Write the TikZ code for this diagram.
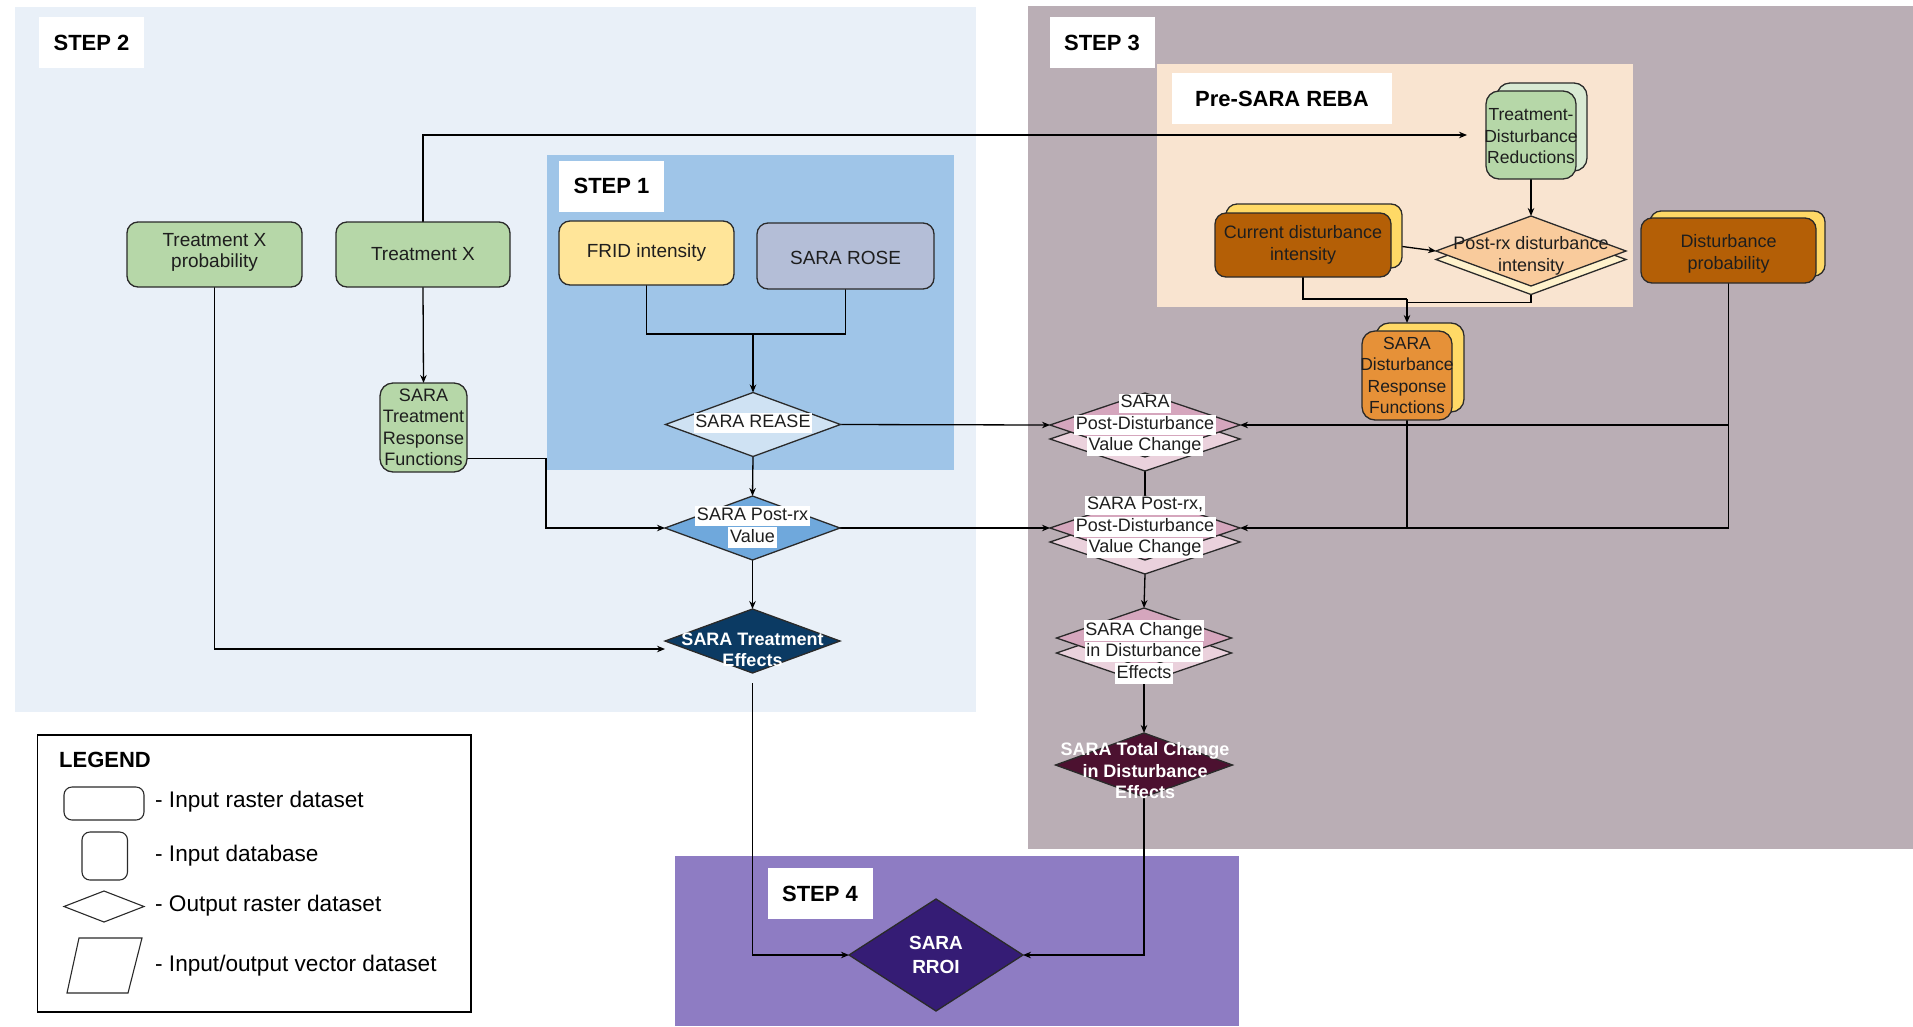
\documentclass[tikz,border=0pt]{standalone}
\usepackage{fontspec}
\setmainfont{Liberation Sans}
\usetikzlibrary{shapes.geometric,arrows.meta,calc}

% palette
\definecolor{bgTwo}{HTML}{E9F0F8}
\definecolor{bgOne}{HTML}{9FC5E8}
\definecolor{bgThree}{HTML}{BAAEB5}
\definecolor{bgReba}{HTML}{F9E4D0}
\definecolor{bgFour}{HTML}{8E7CC3}
\definecolor{greenA}{HTML}{B6D7A8}
\definecolor{greenB}{HTML}{D9EAD3}
\definecolor{yellowA}{HTML}{FFE599}
\definecolor{yellowB}{HTML}{FFD966}
\definecolor{creamA}{HTML}{FFF2CC}
\definecolor{roseGrey}{HTML}{B4BED7}
\definecolor{brownA}{HTML}{B45F06}
\definecolor{orangeA}{HTML}{E69138}
\definecolor{peachA}{HTML}{F9CB9C}
\definecolor{blueLight}{HTML}{CFE2F3}
\definecolor{blueMid}{HTML}{6FA8DC}
\definecolor{blueDark}{HTML}{0B3A63}
\definecolor{purpleDark}{HTML}{351C75}
\definecolor{magA}{HTML}{D5A6BD}
\definecolor{magB}{HTML}{EAD1DC}
\definecolor{magDark}{HTML}{4C1130}
\definecolor{ink}{HTML}{1E1E1E}
\definecolor{edge}{HTML}{2A2A2A}

\pgfdeclarelayer{back}
\pgfdeclarelayer{wires}
\pgfsetlayers{back,wires,main}

\newcommand{\whitebg}[1]{{\setlength{\fboxsep}{1.8pt}\colorbox{white}{\vphantom{Ag}#1}}}
\newcommand{\tightlines}{\lineskiplimit=-50pt\relax}

\begin{document}
\begin{tikzpicture}[x=1pt,y=-1pt,
  base/.style={inner sep=0pt, outer sep=0pt, line width=1.3pt, draw=edge},
  rbox/.style={base, rectangle, rounded corners=11pt},
  dia/.style={base, diamond},
  txt/.style={inner sep=0pt, align=center, text=ink, font=\fontsize{19}{21.5}\selectfont\tightlines},
  stxt/.style={txt, font=\fontsize{18}{21.5}\selectfont\tightlines},
  ntxt/.style={txt, font=\fontsize{17.5}{21.5}\selectfont\tightlines},
  btxt/.style={inner sep=0pt, align=center, text=white, font=\bfseries\fontsize{18}{21.5}\selectfont\tightlines},
  steplabel/.style={fill=white, inner sep=0pt, minimum width=105pt, minimum height=51pt, text=black, font=\bfseries\fontsize{22}{26}\selectfont},
  legtxt/.style={anchor=west, inner sep=0pt, text=black, font=\fontsize{22.6}{26}\selectfont},
  wire/.style={line width=1.3pt, draw=black},
  arr/.style={wire, -{Stealth[length=8pt,width=6.5pt]}}
]
\useasboundingbox (0,0) rectangle (1913,1026);

% panels
\begin{pgfonlayer}{back}
  \fill[white] (0,0) rectangle (1913,1026);
  \fill[bgTwo] (15,7) rectangle (976,712);
  \fill[bgThree] (1028,6) rectangle (1913,849);
  \fill[bgOne] (547,155) rectangle (954,470);
  \fill[bgReba] (1157,64) rectangle (1633,307);
  \fill[bgFour] (675,856) rectangle (1239,1026);
\end{pgfonlayer}

% panel titles
\node[steplabel] (s2) at (91.5,42.5) {STEP 2};
\node[steplabel] (s1) at (611.5,186) {STEP 1};
\node[steplabel] (s3) at (1102,42.5) {STEP 3};
\node[steplabel, minimum width=220pt] (reba) at (1282,98.5) {Pre-SARA REBA};
\node[steplabel] (s4) at (820,893.5) {STEP 4};

% input rasters and databases
\node[rbox, fill=greenA, minimum width=175pt, minimum height=65pt] (TXP) at (214.5,254.5) {};
\node[txt] (TXPt) at (214.5,252.5) {Treatment X\\probability};
\node[rbox, fill=greenA, minimum width=174pt, minimum height=65pt] (TX) at (423,254.5) {};
\node[txt] (TXt) at (TX) {Treatment X};
\node[rbox, fill=yellowA, minimum width=175pt, minimum height=64pt] (FRID) at (646.5,253) {};
\node[txt] (FRIDt) at (FRID) {FRID intensity};
\node[rbox, fill=roseGrey, minimum width=177pt, minimum height=66pt] (ROSE) at (845.5,256) {};
\node[txt] (ROSEt) at (845.5,258) {SARA ROSE};
\node[rbox, fill=greenA, minimum width=87pt, minimum height=89pt, rounded corners=13pt] (TRF) at (423.5,427.5) {};
\node[stxt] (TRFt) at (TRF) {SARA\\Treatment\\Response\\Functions};

\node[rbox, fill=greenB, minimum width=90pt, minimum height=88pt, rounded corners=13pt] (TDRb) at (1542,127) {};
\node[rbox, fill=greenA, minimum width=90pt, minimum height=88pt, rounded corners=13pt] (TDR) at (1531,135) {};
\node[ntxt] (TDRt) at (1531,136.5) {Treatment-\\Disturbance\\Reductions};

\node[rbox, fill=yellowB, minimum width=176pt, minimum height=64pt] (CDIb) at (1314,236) {};
\node[rbox, fill=brownA, minimum width=176pt, minimum height=64pt] (CDI) at (1303,245) {};
\node[stxt] (CDIt) at (CDI) {Current disturbance\\intensity};

\node[rbox, fill=yellowB, minimum width=175pt, minimum height=65pt] (DPb) at (1737.5,243.5) {};
\node[rbox, fill=brownA, minimum width=175pt, minimum height=65pt] (DP) at (1728.5,250.5) {};
\node[stxt] (DPt) at (1728.5,254) {Disturbance\\probability};

\node[rbox, fill=yellowB, minimum width=88pt, minimum height=89pt, rounded corners=13pt] (DRFb) at (1420,367.5) {};
\node[rbox, fill=orangeA, minimum width=90pt, minimum height=89pt, rounded corners=13pt] (DRF) at (1407,375.5) {};
\node[ntxt] (DRFt) at (DRF) {SARA\\Disturbance\\Response\\Functions};

% output rasters
\node[dia, fill=blueLight, minimum width=175pt, minimum height=64pt] (REASE) at (753,424.5) {};
\node[stxt] (REASEt) at (753,423) {\whitebg{SARA REASE}};
\node[dia, fill=blueMid, minimum width=175pt, minimum height=64pt] (PV) at (752.5,528) {};
\node[stxt] (PVt) at (752.5,527) {\whitebg{SARA Post-rx}\\\whitebg{Value}};
\node[dia, fill=blueDark, minimum width=175pt, minimum height=64pt] (TE) at (752.5,641) {};
\node[btxt] (TEt) at (752.5,650) {SARA Treatment\\Effects};
\node[dia, fill=purpleDark, minimum width=174pt, minimum height=112pt] (RROI) at (936,955) {};
\node[btxt, font=\bfseries\fontsize{19}{24}\selectfont\tightlines] (RROIt) at (RROI) {SARA\\RROI};

\node[dia, fill=creamA, minimum width=190pt, minimum height=70pt] (PRDIb) at (1531,259.5) {};
\node[dia, fill=peachA, minimum width=190pt, minimum height=70pt] (PRDI) at (1531,251) {};
\node[stxt] (PRDIt) at (1531,256) {Post-rx disturbance\\intensity};

\node[dia, fill=magB, minimum width=190pt, minimum height=64pt] (PDb) at (1145,439) {};
\node[dia, fill=magA, minimum width=190pt, minimum height=64pt] (PD) at (1145,425) {};
\node[stxt] (PDt) at (1145,425) {\whitebg{SARA}\\\whitebg{Post-Disturbance}\\\whitebg{Value Change}};

\node[dia, fill=magB, minimum width=190pt, minimum height=64pt] (PPDb) at (1145,542) {};
\node[dia, fill=magA, minimum width=190pt, minimum height=64pt] (PPD) at (1145,528) {};
\node[stxt] (PPDt) at (1145,527) {\whitebg{SARA Post-rx,}\\\whitebg{Post-Disturbance}\\\whitebg{Value Change}};

\node[dia, fill=magB, minimum width=175pt, minimum height=60pt] (CDb) at (1144,653) {};
\node[dia, fill=magA, minimum width=175pt, minimum height=60pt] (CD) at (1144,638) {};
\node[stxt] (CDt) at (1144,652) {\whitebg{SARA Change}\\\whitebg{in Disturbance}\\\whitebg{Effects}};

\node[dia, fill=magDark, minimum width=177pt, minimum height=64pt] (TC) at (1144,765) {};
\node[btxt] (TCt) at (1145,771) {SARA Total Change\\in Disturbance\\Effects};

% legend
\node[draw=black, line width=1.3pt, fill=white, inner sep=0pt, minimum width=433.5pt, minimum height=277pt] (leg) at (254.25,873.5) {};
\node[anchor=west, inner sep=0pt, text=black, font=\bfseries\fontsize{22}{26}\selectfont] (legT) at (59,760) {LEGEND};
\node[rbox, fill=white, minimum width=80pt, minimum height=33pt, rounded corners=8pt, line width=1.1pt] (lgRaster) at (104,803.5) {};
\node[legtxt] (lgRasterT) at (155,802) {- Input raster dataset};
\node[rbox, fill=white, minimum width=45.5pt, minimum height=48pt, rounded corners=8pt, line width=1.1pt] (lgDb) at (104.75,856) {};
\node[legtxt] (lgDbT) at (155,856) {- Input database};
\node[dia, fill=white, minimum width=80pt, minimum height=31pt, line width=1.1pt] (lgDia) at (104,906.5) {};
\node[legtxt] (lgDiaT) at (155,906) {- Output raster dataset};
\draw[draw=edge, fill=white, line width=1.1pt] (79,938) -- (142,938) -- (128,993) -- (67,993) -- cycle;
\node[legtxt] (lgVecT) at (155,966) {- Input/output vector dataset};

% connectors
\begin{pgfonlayer}{wires}
  \coordinate (fr) at (753,334);
  \draw[wire] (FRID.south) |- (fr) -| (ROSE.south);
  \draw[arr] (fr) -- (REASE.north);
  \draw[arr, shorten >=19pt] (TX.north) |- (TDR.west);
  \draw[arr] (TX.south) -- (TRF.north);
  \draw[arr] ($(TRF.east)+(0,31)$) -- ++(79,0) |- (PV.west);
  \draw[arr] (REASE.south) -- (PV.north);
  \draw[arr] (PV.south) -- (TE.north);
  \draw[arr] (TXP.south) |- ($(TE.west)+(0,8)$);
  \draw[arr, shorten <=10pt] (TE.south) |- (RROI.west);
  \draw[arr] (REASE.east) -- (PD.west);
  \draw[arr] (PV.east) -- (PPD.west);
  \draw[arr] (TDR.south) -- (PRDI.north);
  \draw[arr] (CDI.east) -- (PRDI.west);
  \coordinate (jd) at (1407,299);
  \draw[wire] (CDI.south) |- (jd);
  \draw[wire] (PRDIb.south) -- ++(0,8) -| (jd);
  \draw[arr] (jd) -- (DRFb.north -| DRF.north);
  \draw[arr] (DP.south) |- (PD.east);
  \draw[arr] (DP.south) |- (PPD.east);
  \draw[wire] (DRF.south) -- (DRF.south |- PPD.east);
  \draw[wire] (PDb.south) -- (PPD.north);
  \draw[arr] (PPDb.south) -- (CD.north);
  \draw[arr] (CDb.south) -- (TC.north);
  \draw[arr] (TC.south) |- (RROI.east);
\end{pgfonlayer}
\end{tikzpicture}
\end{document}
